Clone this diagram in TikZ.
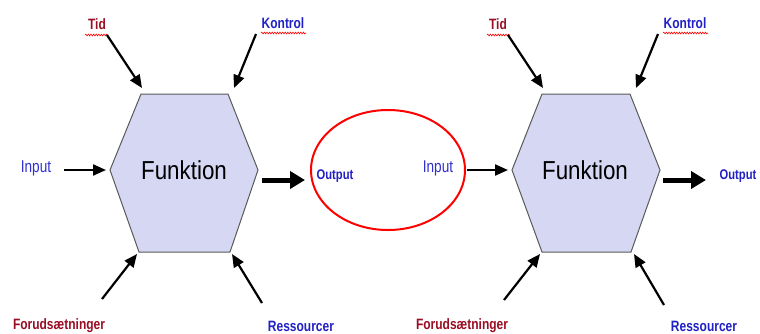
\documentclass[tikz,border=0pt]{standalone}
\usepackage{fontspec}
\setmainfont{Liberation Sans}
\newfontfamily\narrowf{Liberation Sans}[FakeStretch=0.8]
\newfontfamily\narrowg{Liberation Sans}[FakeStretch=0.86]
\usetikzlibrary{arrows.meta,decorations.pathmorphing}
\definecolor{dred}{HTML}{9A0E24}
\definecolor{lblue}{HTML}{2020C4}
\definecolor{iblue}{HTML}{3030D0}
\definecolor{hexfill}{HTML}{D5D7F3}
\definecolor{hexedge}{HTML}{5A5A5A}
\tikzset{
  redlbl/.style={text=dred,font=\narrowf\bfseries\fontsize{15}{17}\selectfont,inner sep=0pt},
  bluelbl/.style={text=lblue,font=\narrowf\bfseries\fontsize{15}{17}\selectfont,inner sep=0pt},
  outlbl/.style={text=lblue,font=\narrowf\bfseries\fontsize{14}{16}\selectfont,inner sep=0pt},
  inlbl/.style={text=iblue,font=\narrowf\fontsize{17}{19}\selectfont,inner sep=0pt},
  funlbl/.style={text=black,font=\narrowg\fontsize{26}{29}\selectfont,inner sep=0pt},
  hexbox/.style={fill=hexfill,draw=hexedge,line width=1pt},
  thinarr/.style={-{Triangle[length=13pt,width=11pt]},line width=2.2pt,black},
  thickarr/.style={-{Triangle[length=15pt,width=17pt]},line width=5pt,black},
  squig/.style={red,line width=0.6pt,decorate,decoration={snake,amplitude=0.9pt,segment length=2.6pt}},
  outring/.style={draw=red,line width=2pt}
}
\begin{document}
\begin{tikzpicture}[x=1pt,y=-1pt]
\useasboundingbox (0,0) rectangle (760,333);
\fill[white] (0,0) rectangle (760,333);

% ---------- left block ----------
\coordinate (h1tl) at (141,94);
\coordinate (h1tr) at (228,94);
\coordinate (h1r)  at (258,170);
\coordinate (h1br) at (230,252);
\coordinate (h1bl) at (139,252);
\coordinate (h1l)  at (110,170);
\draw[hexbox] (h1tl) -- (h1tr) -- (h1r) -- (h1br) -- (h1bl) -- (h1l) -- cycle;
\node[funlbl] (f1) at (184,170) {Funktion};

\node[redlbl] (tid1) at (97,24) {Tid};
\draw[squig] (85,35) -- (108,35);
\node[bluelbl] (kon1) at (283,23) {Kontrol};
\draw[squig] (261,33) -- (306,33);
\node[inlbl] (in1) at (36,168) {Input};
\node[redlbl] (for1) at (59,326) {Forudsætninger};
\node[bluelbl] (res1) at (301,326) {Ressourcer};

\coordinate (t1s) at (107,35);  \coordinate (t1e) at (142,88);
\coordinate (k1s) at (256,34);  \coordinate (k1e) at (234,88);
\coordinate (i1s) at (64,170);  \coordinate (i1e) at (106,170);
\coordinate (o1s) at (262,180); \coordinate (o1e) at (305,180);
\coordinate (f1s) at (102,299); \coordinate (f1e) at (137,254);
\coordinate (r1s) at (262,303); \coordinate (r1e) at (232,254);
\draw[thinarr] (t1s) -- (t1e);
\draw[thinarr] (k1s) -- (k1e);
\draw[thinarr] (i1s) -- (i1e);
\draw[thickarr] (o1s) -- (o1e);
\draw[thinarr] (f1s) -- (f1e);
\draw[thinarr] (r1s) -- (r1e);

% ---------- output ring ----------
\draw[outring] (388,170) ellipse [x radius=77, y radius=60];
\node[outlbl] (out1) at (335,176) {Output};

% ---------- right block ----------
\coordinate (h2tl) at (542,94);
\coordinate (h2tr) at (630,94);
\coordinate (h2r)  at (660,170);
\coordinate (h2br) at (631,252);
\coordinate (h2bl) at (542,252);
\coordinate (h2l)  at (512,170);
\draw[hexbox] (h2tl) -- (h2tr) -- (h2r) -- (h2br) -- (h2bl) -- (h2l) -- cycle;
\node[funlbl] (f2) at (585,170) {Funktion};

\node[redlbl] (tid2) at (498,24) {Tid};
\draw[squig] (487,35) -- (510,35);
\node[bluelbl] (kon2) at (685,23) {Kontrol};
\draw[squig] (663,33) -- (708,33);
\node[inlbl] (in2) at (438,168) {Input};
\node[redlbl] (for2) at (462,326) {Forudsætninger};
\node[bluelbl] (res2) at (704,326) {Ressourcer};
\node[outlbl] (out2) at (738,176) {Output};

\coordinate (t2s) at (508,35);  \coordinate (t2e) at (543,88);
\coordinate (k2s) at (658,34);  \coordinate (k2e) at (636,88);
\coordinate (i2s) at (467,170); \coordinate (i2e) at (508,170);
\coordinate (o2s) at (663,180); \coordinate (o2e) at (706,180);
\coordinate (f2s) at (504,300); \coordinate (f2e) at (540,254);
\coordinate (r2s) at (664,305); \coordinate (r2e) at (634,254);
\draw[thinarr] (t2s) -- (t2e);
\draw[thinarr] (k2s) -- (k2e);
\draw[thinarr] (i2s) -- (i2e);
\draw[thickarr] (o2s) -- (o2e);
\draw[thinarr] (f2s) -- (f2e);
\draw[thinarr] (r2s) -- (r2e);
\end{tikzpicture}
\end{document}
